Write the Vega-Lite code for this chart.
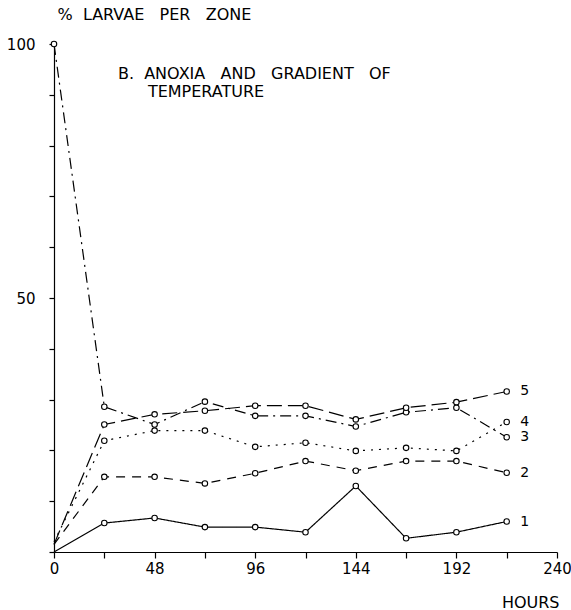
{
  "$schema": "https://vega.github.io/schema/vega-lite/v6.json",
  "width": 503,
  "height": 508,
  "autosize": "none",
  "padding": {"left": 54, "top": 44, "right": 14, "bottom": 58},
  "background": "white",
  "config": {
    "view": {"stroke": null},
    "font": "DejaVu Sans",
    "axis": {"grid": false, "domainColor": "black", "tickColor": "black", "labelColor": "black", "titleColor": "black", "labelFont": "DejaVu Sans", "titleFont": "DejaVu Sans", "labelFontSize": 15, "titleFontSize": 16, "titleFontWeight": "normal", "domainWidth": 1.2, "tickWidth": 1.2}
  },
  "datasets": {
    "series": [
      {"zone": "1", "hours": 0, "pct": 0},
      {"zone": "1", "hours": 24, "pct": 5.7},
      {"zone": "1", "hours": 48, "pct": 6.7},
      {"zone": "1", "hours": 72, "pct": 4.9},
      {"zone": "1", "hours": 96, "pct": 4.9},
      {"zone": "1", "hours": 120, "pct": 3.9},
      {"zone": "1", "hours": 144, "pct": 13},
      {"zone": "1", "hours": 168, "pct": 2.7},
      {"zone": "1", "hours": 192, "pct": 3.9},
      {"zone": "1", "hours": 216, "pct": 6.0},
      {"zone": "2", "hours": 0, "pct": 1.5},
      {"zone": "2", "hours": 24, "pct": 14.8},
      {"zone": "2", "hours": 48, "pct": 14.8},
      {"zone": "2", "hours": 72, "pct": 13.5},
      {"zone": "2", "hours": 96, "pct": 15.5},
      {"zone": "2", "hours": 120, "pct": 17.9},
      {"zone": "2", "hours": 144, "pct": 16.0},
      {"zone": "2", "hours": 168, "pct": 17.9},
      {"zone": "2", "hours": 192, "pct": 17.9},
      {"zone": "2", "hours": 216, "pct": 15.6},
      {"zone": "3", "hours": 0, "pct": 100},
      {"zone": "3", "hours": 24, "pct": 28.6},
      {"zone": "3", "hours": 48, "pct": 25.1},
      {"zone": "3", "hours": 72, "pct": 29.6},
      {"zone": "3", "hours": 96, "pct": 26.8},
      {"zone": "3", "hours": 120, "pct": 26.8},
      {"zone": "3", "hours": 144, "pct": 24.7},
      {"zone": "3", "hours": 168, "pct": 27.5},
      {"zone": "3", "hours": 192, "pct": 28.4},
      {"zone": "3", "hours": 216, "pct": 22.6},
      {"zone": "4", "hours": 0, "pct": 2.0},
      {"zone": "4", "hours": 24, "pct": 21.9},
      {"zone": "4", "hours": 48, "pct": 23.9},
      {"zone": "4", "hours": 72, "pct": 23.9},
      {"zone": "4", "hours": 96, "pct": 20.7},
      {"zone": "4", "hours": 120, "pct": 21.5},
      {"zone": "4", "hours": 144, "pct": 19.9},
      {"zone": "4", "hours": 168, "pct": 20.5},
      {"zone": "4", "hours": 192, "pct": 19.9},
      {"zone": "4", "hours": 216, "pct": 25.6},
      {"zone": "5", "hours": 0, "pct": 1.5},
      {"zone": "5", "hours": 24, "pct": 25.1},
      {"zone": "5", "hours": 48, "pct": 27.1},
      {"zone": "5", "hours": 72, "pct": 27.8},
      {"zone": "5", "hours": 96, "pct": 28.8},
      {"zone": "5", "hours": 120, "pct": 28.8},
      {"zone": "5", "hours": 144, "pct": 26.1},
      {"zone": "5", "hours": 168, "pct": 28.4},
      {"zone": "5", "hours": 192, "pct": 29.5},
      {"zone": "5", "hours": 216, "pct": 31.6}
    ],
    "notes": [
      {"hours": 30.5, "pct": 94.1, "text": "B.\u00a0 ANOXIA\u00a0\u00a0 AND\u00a0\u00a0 GRADIENT\u00a0\u00a0 OF"},
      {"hours": 44.8, "pct": 90.5, "text": "TEMPERATURE"}
    ]
  },
  "data": {"name": "series"},
  "encoding": {
    "x": {
      "field": "hours", "type": "quantitative",
      "scale": {"domain": [0, 240], "nice": false, "zero": true},
      "axis": {
        "values": [0, 24, 48, 72, 96, 120, 144, 168, 192, 216, 240],
        "labelExpr": "datum.value % 48 == 0 ? datum.label : ''",
        "tickSize": 6, "labelPadding": 3, "labelFlush": false,
        "title": "HOURS", "titleAnchor": "end", "titleAlign": "right",
        "titleX": 505, "titleY": 50, "titleBaseline": "middle"
      }
    },
    "y": {
      "field": "pct", "type": "quantitative",
      "scale": {"domain": [0, 100], "nice": false},
      "axis": {
        "values": [0, 10, 20, 30, 40, 50, 60, 70, 80, 90, 100],
        "labelExpr": "datum.value == 100 || datum.value == 50 ? datum.label : ''",
        "tickSize": 5, "labelPadding": 14, "labelFlush": false,
        "title": "%\u00a0 LARVAE\u00a0\u00a0 PER\u00a0\u00a0 ZONE", "titleAngle": 0, "titleAlign": "left",
        "titleX": 3, "titleY": -30, "titleBaseline": "middle"
      }
    }
  },
  "layer": [
    {
      "mark": {"type": "line", "color": "black", "strokeWidth": 1.2},
      "encoding": {
        "detail": {"field": "zone"},
        "strokeDash": {
          "field": "zone", "type": "nominal", "legend": null,
          "scale": {"domain": ["1", "2", "3", "4", "5"], "range": [[1, 0], [9, 7], [11, 5, 2, 5], [2, 6], [15, 6]]}
        }
      }
    },
    {
      "transform": [{"filter": "datum.hours > 0 || datum.pct == 100"}],
      "mark": {"type": "point", "shape": "circle", "filled": true, "fill": "white", "stroke": "black", "strokeWidth": 1.1, "size": 30, "opacity": 1}
    },
    {
      "transform": [{"filter": "datum.hours == 216"}],
      "mark": {"type": "text", "dx": 18, "align": "center", "baseline": "middle", "fontSize": 14, "font": "DejaVu Sans", "color": "black"},
      "encoding": {"text": {"field": "zone"}}
    },
    {
      "data": {"name": "notes"},
      "mark": {"type": "text", "align": "left", "baseline": "middle", "fontSize": 16, "font": "DejaVu Sans", "color": "black"},
      "encoding": {"text": {"field": "text"}}
    }
  ]
}
